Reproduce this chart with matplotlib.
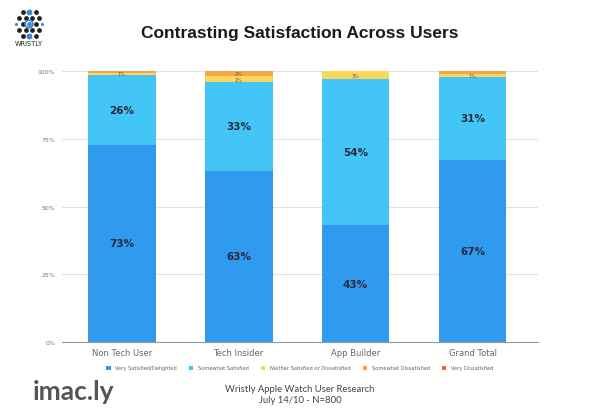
import numpy as np
import matplotlib
matplotlib.use("Agg")
import matplotlib.pyplot as plt

# donnees (en %)
groupes = ["Non Tech User", "Tech Insider", "App Builder", "Grand Total"]
tres_satisfait = [72.8, 63.2, 43.0, 67.2]
assez_satisfait = [25.7, 32.8, 54.0, 30.6]
neutre = [0.8, 2.0, 3.0, 1.2]
assez_insatisfait = [0.7, 2.0, 0.0, 1.0]
tres_insatisfait = [0.0, 0.0, 0.0, 0.0]

noms_series = ["Very Satisfied/Delighted", "Somewhat Satisfied",
               "Neither Satisfied or Dissatisfied", "Somewhat Dissatisfied",
               "Very Dissatisfied"]
couleurs = ["#2F9AEE", "#44C5F8", "#FDD75C", "#F6A44C", "#EE6A3C"]
series = [tres_satisfait, assez_satisfait, neutre, assez_insatisfait, tres_insatisfait]
yticks = [0, 25, 50, 75, 100]
ytick_labels = ["0%", "25%", "50%", "75%", "100%"]

fig = plt.figure(figsize=(6, 4.1), dpi=100)

# calque pour le logo (coordonnees en pixels)
logo = fig.add_axes([0, 0, 1, 1])
logo.set_xlim(0, 600)
logo.set_ylim(410, 0)
logo.axis("off")

ax = fig.add_axes([0.1033, 0.1634, 0.7934, 0.661])

x = np.arange(len(groupes))
bas = np.zeros(len(groupes))
deja_petit = [False] * len(groupes)
for nom, vals, coul in zip(noms_series, series, couleurs):
    vals = np.array(vals)
    ax.bar(x, vals, 0.58, bottom=bas, color=coul, label=nom, zorder=3)
    for i, (xi, b, v) in enumerate(zip(x, bas, vals)):
        if v >= 5:
            ax.text(xi, b + v / 2, f"{v:.0f}%", ha="center", va="center",
                    fontsize=7.5, fontweight="bold", color="#2a2a3a", zorder=4)
        elif v >= 1.5 or (v > 0 and not deja_petit[i]):
            ax.text(xi, b + v / 2, f"{max(1, round(v)):.0f}%", ha="center",
                    va="center", fontsize=3.5, color="#555555", zorder=4)
            deja_petit[i] = True
    bas += vals

ax.set_xlim(-0.51, 3.56)
ax.set_ylim(0, 100)
ax.set_yticks(yticks)
ax.set_yticklabels(ytick_labels, fontsize=4.5, color="#777777")
ax.set_xticks(x)
ax.set_xticklabels(groupes, fontsize=6, color="#666666")
ax.tick_params(axis="both", length=0, pad=4)
ax.tick_params(axis="y", pad=5)
ax.grid(axis="y", color="#e2e2e2", linewidth=0.8, zorder=0)
for s in ["top", "right", "left"]:
    ax.spines[s].set_visible(False)
ax.spines["bottom"].set_color("#999999")
ax.spines["bottom"].set_linewidth(0.8)

fig.legend(loc="center", bbox_to_anchor=(0.5, 0.1), ncol=5, frameon=False,
           fontsize=3.7, handlelength=0.8, handleheight=0.8, columnspacing=2.4,
           handletextpad=0.9, labelcolor="#666666")

# titre
fig.text(0.5, 0.918, "Contrasting Satisfaction Across Users", ha="center",
         va="center", fontsize=12.5, fontweight="bold", color="#1a1a1a",
         family="Liberation Sans")

# logo Wristly (points)
cx, cy, pas_x, pas_y = 29, 25, 6.5, 6.2
rangs = [(-2, [-1, 0, 1]), (-1, [-1.5, -0.5, 0.5, 1.5]),
         (0, [-2, -1, 0, 1, 2]), (1, [-1.5, -0.5, 0.5, 1.5]), (2, [-1, 0, 1])]
for r, dxs in rangs:
    for dx in dxs:
        bleu = (dx == 0) or (r == 0 and abs(dx) == 2)
        taille = 18 if (dx == 0 and r != 0) else (5 if abs(dx) == 2 else 12)
        logo.scatter(cx + dx * pas_x, cy + r * pas_y, s=taille,
                     color="#3a87d6" if bleu else "#222222", linewidths=0)
logo.scatter(cx, cy, s=30, facecolor="none", edgecolor="#3a87d6", linewidths=1.2)
logo.text(cx, 44, "WRISTLY", ha="center", va="center", fontsize=4.8, color="#222222")

# pied de page
logo.text(33, 392, "imac.ly", ha="left", va="center", fontsize=19,
          color="#555555", family="Lato", fontweight="bold")
logo.text(300, 395, "Wristly Apple Watch User Research\nJuly 14/10 - N=800",
          ha="center", va="center", fontsize=6.8, color="#444444",
          linespacing=1.15, family="Lato")

fig.savefig("out.png", dpi=100)
